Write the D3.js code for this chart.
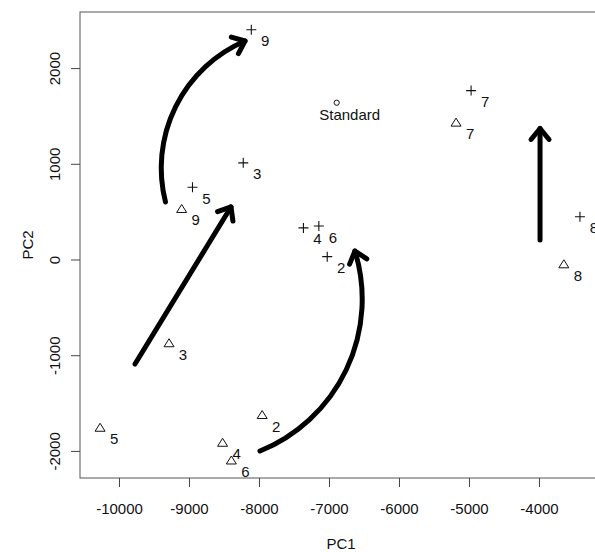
<!DOCTYPE html>
<html>
<head>
<meta charset="utf-8">
<script src="https://cdn.jsdelivr.net/npm/d3@7.9.0/dist/d3.min.js"></script>
<style>
  body { margin: 0; background: #fff; }
  svg { display: block; font-family: "Liberation Sans", Arial, sans-serif; }
</style>
</head>
<body>
<svg id="chart" width="595" height="552"></svg>
<script>
// sample labels (same order for both runs)
const sampleIds = ['2', '3', '4', '5', '6', '7', '8', '9'];

// "+" run
const pc1Plus = [-7025, -8225, -7365, -8950, -7145, -4970, -3415, -8110];
const pc2Plus = [30, 1010, 330, 755, 350, 1765, 447, 2400];

// triangle run
const pc1Tri = [-7955, -9285, -8520, -10270, -8395, -5185, -3645, -9105];
const pc2Tri = [-1625, -875, -1915, -1758, -2100, 1430, -50, 528];

// reference sample
const stdLabel = 'Standard';
const pc1Std = -6890;
const pc2Std = 1638;

// annotation arrows in data units, bend = arc radius / chord (sign = direction)
const arrowFromPc1 = [-9336, -9771, -7986, -3985];
const arrowFromPc2 = [601, -1092, -2001, 204];
const arrowToPc1 = [-8200, -8400, -6629, -3985];
const arrowToPc2 = [2283, 549, 89, 1369];
const arrowBend = [0.77, 0, -0.74, 0];

// axis
const xTicks = [-10000, -9000, -8000, -7000, -6000, -5000, -4000];
const yTicks = [-2000, -1000, 0, 1000, 2000];
const xLimits = [-10557, -3100];
const yLimits = [-2283, 2586];

const svg = d3.select('#chart');
const plotLeft = 80, plotRight = 602, plotTop = 12, plotBottom = 478;

const x = d3.scaleLinear().domain(xLimits).range([plotLeft, plotRight]);
const y = d3.scaleLinear().domain(yLimits).range([plotBottom, plotTop]);

//plain hyphen minus, as in the original
const fmt = d => String(d);

//frame
svg.append('rect')
    .attr('x', plotLeft).attr('y', plotTop)
    .attr('width', plotRight - plotLeft).attr('height', plotBottom - plotTop)
    .attr('fill', 'none').attr('stroke', '#555').attr('stroke-width', 1);

//x axis
const xAxis = svg.append('g')
    .attr('transform', `translate(0,${plotBottom})`)
    .call(d3.axisBottom(x).tickValues(xTicks).tickSize(9).tickPadding(16).tickFormat(fmt));
xAxis.select('.domain').remove();
xAxis.selectAll('line').attr('stroke', '#444');
xAxis.selectAll('text').attr('font-size', 15).attr('fill', '#111')
    .attr('font-family', '"Liberation Sans", Arial, sans-serif');

//y axis (labels parallel to axis, like R)
const yAxis = svg.append('g')
    .attr('transform', `translate(${plotLeft},0)`)
    .call(d3.axisLeft(y).tickValues(yTicks).tickSize(9).tickFormat(fmt));
yAxis.select('.domain').remove();
yAxis.selectAll('line').attr('stroke', '#444');
yAxis.selectAll('text')
    .attr('font-size', 15).attr('fill', '#111')
    .attr('font-family', '"Liberation Sans", Arial, sans-serif')
    .attr('x', null).attr('dy', null)
    .attr('text-anchor', 'middle')
    .attr('dominant-baseline', 'central')
    .attr('transform', 'translate(-26,0) rotate(-90)');

svg.append('text')
    .attr('x', (plotLeft + plotRight) / 2).attr('y', 543)
    .attr('text-anchor', 'middle').attr('dominant-baseline', 'central')
    .attr('font-size', 15).attr('fill', '#111')
    .text('PC1');

svg.append('text')
    .attr('transform', `translate(27,${(plotTop + plotBottom) / 2}) rotate(-90)`)
    .attr('text-anchor', 'middle').attr('dominant-baseline', 'central')
    .attr('font-size', 15).attr('fill', '#111')
    .text('PC2');

//arrowhead marker
svg.append('defs').append('marker')
    .attr('id', 'head')
    .attr('markerUnits', 'userSpaceOnUse')
    .attr('orient', 'auto')
    .attr('refX', 0).attr('refY', 0)
    .attr('markerWidth', 40).attr('markerHeight', 40)
    .attr('viewBox', '-20 -20 40 40')
    .append('path')
    .attr('d', 'M-11,-9 L0,0 L-11,9')
    .attr('fill', 'none').attr('stroke', '#000')
    .attr('stroke-width', 5)
    .attr('stroke-linejoin', 'round').attr('stroke-linecap', 'round');

//arrows
arrowBend.forEach((bend, i) => {
    const x0 = x(arrowFromPc1[i]), y0 = y(arrowFromPc2[i]);
    const x1 = x(arrowToPc1[i]), y1 = y(arrowToPc2[i]);
    let d;
    if (bend === 0) {
        d = `M${x0},${y0} L${x1},${y1}`;
    } else {
        const r = Math.abs(bend) * Math.hypot(x1 - x0, y1 - y0);
        d = `M${x0},${y0} A${r},${r} 0 0 ${bend > 0 ? 1 : 0} ${x1},${y1}`;
    }
    svg.append('path')
        .attr('d', d)
        .attr('fill', 'none').attr('stroke', '#000')
        .attr('stroke-width', 5).attr('stroke-linecap', 'round')
        .attr('marker-end', 'url(#head)');
});

const labelDx = 14, labelDy = 11;

//plus points
sampleIds.forEach((id, i) => {
    const px = x(pc1Plus[i]), py = y(pc2Plus[i]);
    svg.append('path')
        .attr('d', `M${px - 5},${py} H${px + 5} M${px},${py - 5} V${py + 5}`)
        .attr('stroke', '#111').attr('stroke-width', 1.1);
    svg.append('text')
        .attr('x', px + labelDx).attr('y', py + labelDy)
        .attr('text-anchor', 'middle').attr('dominant-baseline', 'central')
        .attr('font-size', 15).attr('fill', '#111')
        .text(id);
});

//triangle points
sampleIds.forEach((id, i) => {
    const px = x(pc1Tri[i]), py = y(pc2Tri[i]);
    svg.append('path')
        .attr('d', `M${px},${py - 4.5} L${px + 5},${py + 3.5} L${px - 5},${py + 3.5} Z`)
        .attr('fill', 'none').attr('stroke', '#111').attr('stroke-width', 1);
    svg.append('text')
        .attr('x', px + labelDx).attr('y', py + labelDy)
        .attr('text-anchor', 'middle').attr('dominant-baseline', 'central')
        .attr('font-size', 15).attr('fill', '#111')
        .text(id);
});

//standard
svg.append('circle')
    .attr('cx', x(pc1Std)).attr('cy', y(pc2Std)).attr('r', 2.6)
    .attr('fill', 'none').attr('stroke', '#111').attr('stroke-width', 1);
svg.append('text')
    .attr('x', x(pc1Std) + 13).attr('y', y(pc2Std) + 12)
    .attr('text-anchor', 'middle').attr('dominant-baseline', 'central')
    .attr('font-size', 15).attr('fill', '#111')
    .text(stdLabel);
</script>
</body>
</html>
